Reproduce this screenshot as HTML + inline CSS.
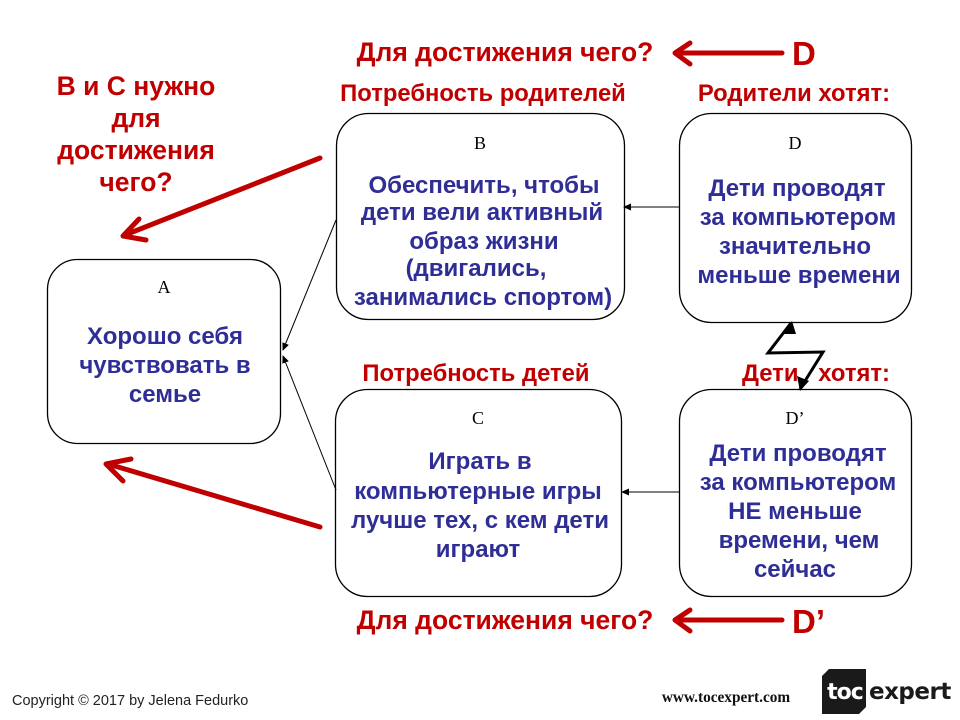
<!DOCTYPE html>
<html><head><meta charset="utf-8"><style>
html,body{margin:0;padding:0;background:#fff;}
svg{display:block;}
.r{font-family:"Liberation Sans",Arial,sans-serif;font-weight:bold;fill:#c00000;}
.b{font-family:"Liberation Sans",Arial,sans-serif;font-weight:bold;fill:#2e2e96;font-size:24px;}
.l{font-family:"Liberation Serif","Times New Roman",serif;fill:#000;font-size:18px;}
</style></head><body>
<svg width="960" height="720" viewBox="0 0 960 720" xmlns="http://www.w3.org/2000/svg">
<defs>
<marker id="ah" markerWidth="8" markerHeight="8" refX="7" refY="4" orient="auto" markerUnits="userSpaceOnUse">
<path d="M0,0.5 L8,4 L0,7.5 Z" fill="#000"/>
</marker>
</defs>

<!-- boxes -->
<rect x="47.5" y="259.5" width="233" height="184" rx="30" ry="30" fill="#fff" stroke="#000" stroke-width="1.3"/>
<rect x="336.5" y="113.5" width="288" height="206" rx="32" ry="32" fill="#fff" stroke="#000" stroke-width="1.3"/>
<rect x="679.5" y="113.5" width="232" height="209" rx="32" ry="32" fill="#fff" stroke="#000" stroke-width="1.3"/>
<rect x="335.5" y="389.5" width="286" height="207" rx="32" ry="32" fill="#fff" stroke="#000" stroke-width="1.3"/>
<rect x="679.5" y="389.5" width="232" height="207" rx="32" ry="32" fill="#fff" stroke="#000" stroke-width="1.3"/>

<!-- thin connectors -->
<line x1="336" y1="220" x2="283" y2="350" stroke="#000" stroke-width="1" marker-end="url(#ah)"/>
<line x1="336" y1="490" x2="283" y2="356" stroke="#000" stroke-width="1" marker-end="url(#ah)"/>
<line x1="679" y1="207" x2="624" y2="207" stroke="#000" stroke-width="1" marker-end="url(#ah)"/>
<line x1="679" y1="492" x2="622" y2="492" stroke="#000" stroke-width="1" marker-end="url(#ah)"/>

<!-- lightning conflict -->
<polyline points="800,389 823,352 768,353 791,323" fill="none" stroke="#000" stroke-width="3" stroke-linejoin="miter"/>
<path d="M792,321 L782,334 L796,334 Z" fill="#000"/>
<path d="M800,391 L797,376 L809,381 Z" fill="#000"/>

<!-- red arrows -->
<g stroke="#c00000" stroke-width="5" fill="none" stroke-linecap="round" stroke-linejoin="round">
<line x1="320" y1="158" x2="125" y2="235"/>
<polyline points="139,219 123,236 146,240"/>
<line x1="320" y1="527" x2="108" y2="464"/>
<polyline points="131,459 106,464 123,481"/>
<line x1="782" y1="53" x2="677" y2="53"/>
<polyline points="690,43 675,53 690,64"/>
<line x1="782" y1="620" x2="677" y2="620"/>
<polyline points="690,610 675,620 690,631"/>
</g>

<!-- red texts -->
<text class="r" x="505" y="61" font-size="26.5" text-anchor="middle">Для достижения чего?</text>
<text class="r" x="792" y="65" font-size="33">D</text>
<text class="r" x="505" y="629" font-size="26.5" text-anchor="middle">Для достижения чего?</text>
<text class="r" x="792" y="633" font-size="33">D’</text>
<text class="r" x="483" y="101" font-size="23.8" text-anchor="middle">Потребность родителей</text>
<text class="r" x="794" y="101" font-size="23.8" text-anchor="middle">Родители хотят:</text>
<text class="r" x="476" y="381" font-size="23.8" text-anchor="middle">Потребность детей</text>
<text class="r" x="742" y="381" font-size="23.8">Дети</text>
<text class="r" x="890" y="381" font-size="23.8" text-anchor="end">хотят:</text>
<g class="r" font-size="26.5" text-anchor="middle">
<text x="136" y="95">В и С нужно</text>
<text x="136" y="127">для</text>
<text x="136" y="159">достижения</text>
<text x="136" y="191">чего?</text>
</g>

<!-- box labels -->
<text class="l" x="164" y="293" text-anchor="middle">A</text>
<text class="l" x="480" y="149" text-anchor="middle">B</text>
<text class="l" x="795" y="149" text-anchor="middle">D</text>
<text class="l" x="478" y="424" text-anchor="middle">C</text>
<text class="l" x="795" y="424" text-anchor="middle">D’</text>

<!-- blue texts -->
<g class="b" text-anchor="middle">
<text x="165" y="344">Хорошо себя</text>
<text x="165" y="373">чувствовать в</text>
<text x="165" y="402">семье</text>

<text x="484" y="193">Обеспечить, чтобы</text>
<text x="482" y="220">дети вели активный</text>
<text x="484" y="249">образ жизни</text>
<text x="476" y="276">(двигались,</text>
<text x="483" y="305">занимались спортом)</text>

<text x="797" y="196">Дети проводят</text>
<text x="798" y="225">за компьютером</text>
<text x="795" y="254">значительно</text>
<text x="799" y="283">меньше времени</text>

<text x="480" y="469">Играть в</text>
<text x="478" y="499">компьютерные игры</text>
<text x="480" y="528">лучше тех, с кем дети</text>
<text x="478" y="557">играют</text>

<text x="798" y="461">Дети проводят</text>
<text x="798" y="490">за компьютером</text>
<text x="795" y="519">НЕ меньше</text>
<text x="799" y="548">времени, чем</text>
<text x="795" y="577">сейчас</text>
</g>

<!-- footer -->
<text x="12" y="705" font-family="'Liberation Sans',Arial,sans-serif" font-size="14.5" fill="#222">Copyright © 2017 by Jelena Fedurko</text>
<text x="726" y="702" font-family="'Liberation Serif','Times New Roman',serif" font-weight="bold" font-size="15.3" fill="#111" text-anchor="middle">www.tocexpert.com</text>
<path d="M829,669 L866,669 L866,707 L859,714 L822,714 L822,676 Z" fill="#1a1a1a"/>
<text x="845" y="699" font-family="'DejaVu Sans','Liberation Sans',sans-serif" font-weight="bold" font-size="22" fill="#fff" text-anchor="middle" letter-spacing="-1">toc</text>
<text x="869" y="699" font-family="'DejaVu Sans','Liberation Sans',sans-serif" font-weight="bold" font-size="23" fill="#1a1a1a" letter-spacing="-0.5">expert</text>
</svg>
</body></html>
